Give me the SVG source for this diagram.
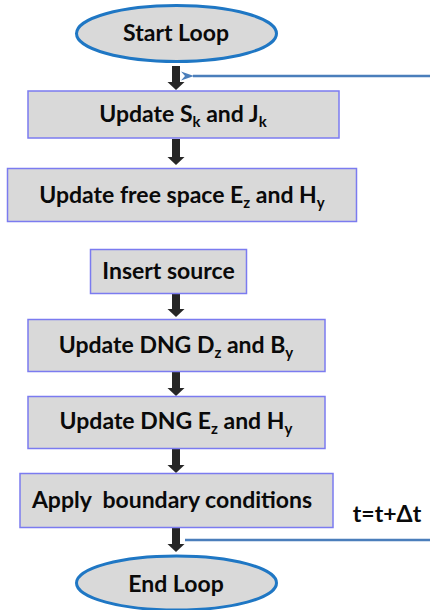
<svg xmlns="http://www.w3.org/2000/svg" width="430" height="610" viewBox="0 0 430 610">
<style>
.box{fill:#d9d9d9;stroke:#7b7bf0;stroke-width:1.5}
.ell{fill:#d9d9d9;stroke:#1f77c4;stroke-width:3}
.t{font-family:Lato,"Liberation Sans",sans-serif;font-weight:bold;font-size:23px;fill:#0a0a0a;text-anchor:middle}
.sub{font-size:15px}
.arr{fill:#262626}
.fb{stroke:#4a7ebb;stroke-width:2.5;fill:none}
</style>
<defs>
<marker id="bh" markerWidth="14" markerHeight="12" refX="1" refY="6" orient="auto" markerUnits="userSpaceOnUse">
<path d="M13,1.5 L0,6 L13,10.5 L9,6 Z" fill="#4a7ebb"/>
</marker>
</defs>
<rect width="430" height="610" fill="#fff"/>
<g id="connectors">
<path class="arr" d="M172,66 H180 V82 H184.5 L176,90 L167.5,82 H172 Z"/>
<path class="arr" d="M172,139 H180 V157 H184.5 L176,165 L167.5,157 H172 Z"/>
<path class="arr" d="M172,294 H180 V309 H184.5 L176,317 L167.5,309 H172 Z"/>
<path class="arr" d="M172,372 H180 V388 H184.5 L176,396 L167.5,388 H172 Z"/>
<path class="arr" d="M172,449 H180 V465 H184.5 L176,473 L167.5,465 H172 Z"/>
<path class="arr" d="M172,528 H180 V544 H184.5 L176,552 L167.5,544 H172 Z"/>
<path class="fb" d="M430,76 H193" marker-end="url(#bh)"/>
<path class="fb" d="M185,540 H430"/>
<text class="t" x="387" y="522">t=t+Δt</text>
</g>
<g id="start">
<ellipse class="ell" cx="176.5" cy="33.5" rx="100" ry="28"/>
<text class="t" x="176" y="41">Start Loop</text>
</g>
<g id="update-sk-jk">
<rect class="box" x="28" y="91" width="311" height="47"/>
<text class="t" x="183" y="122">Update S<tspan class="sub" dy="5">k</tspan><tspan dy="-5"> and J</tspan><tspan class="sub" dy="5">k</tspan></text>
</g>
<g id="update-free-space">
<rect class="box" x="7.5" y="168.5" width="349" height="53"/>
<text class="t" x="182" y="203">Update free space E<tspan class="sub" dy="5">z</tspan><tspan dy="-5"> and H</tspan><tspan class="sub" dy="5">y</tspan></text>
</g>
<g id="insert-source">
<rect class="box" x="90.5" y="249.5" width="156" height="44"/>
<text class="t" x="168.5" y="279">Insert source</text>
</g>
<g id="update-dng-dz-by">
<rect class="box" x="28" y="319.5" width="297" height="52"/>
<text class="t" x="176" y="353">Update DNG D<tspan class="sub" dy="5">z</tspan><tspan dy="-5"> and B</tspan><tspan class="sub" dy="5">y</tspan></text>
</g>
<g id="update-dng-ez-hy">
<rect class="box" x="28" y="396.5" width="297" height="52"/>
<text class="t" x="176" y="429">Update DNG E<tspan class="sub" dy="5">z</tspan><tspan dy="-5"> and H</tspan><tspan class="sub" dy="5">y</tspan></text>
</g>
<g id="apply-boundary">
<rect class="box" x="20" y="473.5" width="313" height="54"/>
<text class="t" x="172" y="508" xml:space="preserve">Apply  boundary conditions</text>
</g>
<g id="end">
<ellipse class="ell" cx="176.5" cy="583" rx="100" ry="27"/>
<text class="t" x="176" y="592">End Loop</text>
</g>
</svg>
